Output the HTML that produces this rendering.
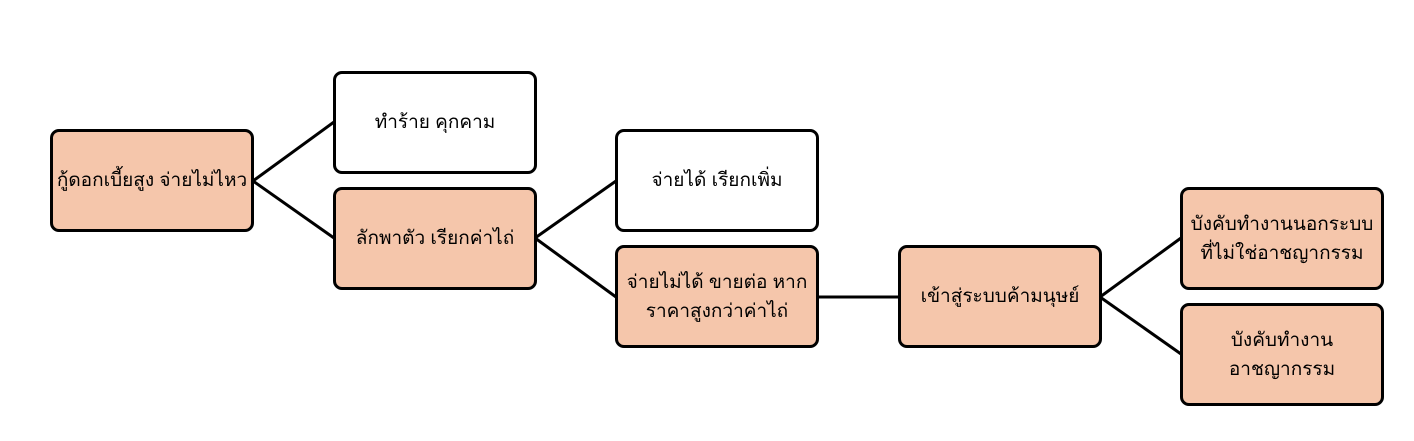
<!DOCTYPE html>
<html><head><meta charset="utf-8"><style>
body{margin:0;width:1414px;height:441px;background:#fff;position:relative;overflow:hidden;font-family:"Liberation Sans","DejaVu Sans",sans-serif;}
.b{position:absolute;width:198px;height:97px;border:3px solid #000;border-radius:9px;box-sizing:content-box;display:flex;align-items:center;justify-content:center;text-align:center;font-size:19px;line-height:29px;color:#000;}
.f{background:#f5c6ab;}
svg{position:absolute;left:0;top:0;}
</style></head><body>
<svg width="1414" height="441"><g stroke="#000" stroke-width="3" fill="none">
<line x1="253" y1="181" x2="334" y2="122"/><line x1="253" y1="181" x2="334" y2="238"/>
<line x1="535" y1="238" x2="616" y2="181"/><line x1="535" y1="238" x2="616" y2="297"/>
<line x1="818" y1="297" x2="899" y2="297"/>
<line x1="1100" y1="297" x2="1181" y2="238"/><line x1="1100" y1="297" x2="1181" y2="354"/>
</g></svg>
<div class="b f" style="left:50px;top:129px">กู้ดอกเบี้ยสูง จ่ายไม่ไหว</div>
<div class="b" style="left:333px;top:71px">ทำร้าย คุกคาม</div>
<div class="b f" style="left:333px;top:187px">ลักพาตัว เรียกค่าไถ่</div>
<div class="b" style="left:615px;top:129px">จ่ายได้ เรียกเพิ่ม</div>
<div class="b f" style="left:615px;top:245px">จ่ายไม่ได้ ขายต่อ หาก<br>ราคาสูงกว่าค่าไถ่</div>
<div class="b f" style="left:898px;top:245px">เข้าสู่ระบบค้ามนุษย์</div>
<div class="b f" style="left:1180px;top:187px">บังคับทำงานนอกระบบ<br>ที่ไม่ใช่อาชญากรรม</div>
<div class="b f" style="left:1180px;top:303px">บังคับทำงาน<br>อาชญากรรม</div>
</body></html>
